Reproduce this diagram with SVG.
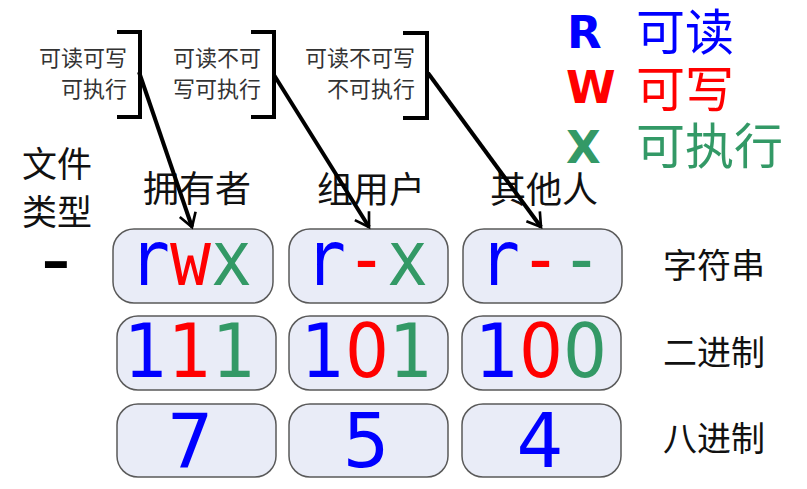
<svg xmlns="http://www.w3.org/2000/svg" width="807" height="489" viewBox="0 0 807 489">
<style>
.box{fill:#e9ecf7;stroke:#5a5a5a;stroke-width:1.5}
.cj{font-family:"Noto Sans CJK SC","Noto Sans",sans-serif;fill:#111}
.sm{font-family:"Noto Sans CJK SC",sans-serif;font-size:22px;fill:#333}
.mono{font-family:"DejaVu Sans Mono","Liberation Mono",monospace}
.dig{font-family:"DejaVu Sans","Liberation Sans",sans-serif}
.b{fill:#0000ff}.r{fill:#ff0000}.g{fill:#339966}
.br{fill:none;stroke:#000;stroke-width:4}
.ar{fill:none;stroke:#000;stroke-width:4}
</style>
<defs>
<marker id="ah" viewBox="0 0 12 12" refX="10" refY="6" markerWidth="5" markerHeight="5" orient="auto" markerUnits="strokeWidth">
<polyline points="2,1 10,6 2,11" fill="none" stroke="#000" stroke-width="1.6"/>
</marker>
</defs>
<rect width="807" height="489" fill="#fff"/>

<g id="legend">
<text x="567" y="48" font-family="DejaVu Sans" font-weight="bold" font-size="45" class="b">R</text>
<text x="566" y="103" font-family="DejaVu Sans" font-weight="bold" font-size="45" class="r">W</text>
<text x="566" y="163" font-family="DejaVu Sans" font-weight="bold" font-size="45" class="g">X</text>
<text x="636" y="50" class="cj" font-size="49" style="fill:#0000ff">可读</text>
<text x="636" y="107" class="cj" font-size="49" style="fill:#ff0000">可写</text>
<text x="636" y="164" class="cj" font-size="49" style="fill:#339966">可执行</text>
</g>

<g id="bracket1">
<polyline class="br" points="117,32 140,32 140,117 117,117"/>
<text class="sm" x="127" y="66" text-anchor="end">可读可写</text>
<text class="sm" x="127" y="97" text-anchor="end">可执行</text>
</g>
<g id="bracket2">
<polyline class="br" points="251,32 274,32 274,117 251,117"/>
<text class="sm" x="261" y="66" text-anchor="end">可读不可</text>
<text class="sm" x="261" y="97" text-anchor="end">写可执行</text>
</g>
<g id="bracket3">
<polyline class="br" points="403,33 427,33 427,118 403,118"/>
<text class="sm" x="415" y="66" text-anchor="end">可读不可写</text>
<text class="sm" x="415" y="97" text-anchor="end">不可执行</text>
</g>

<g id="labels">
<text class="cj" font-size="35" x="22" y="177">文件</text>
<text class="cj" font-size="35" x="22" y="225">类型</text>
<text class="cj" font-size="36" x="143" y="202">拥有者</text>
<text class="cj" font-size="36" x="317" y="203">组用户</text>
<text class="cj" font-size="36" x="490" y="203">其他人</text>
<text class="cj" font-size="34" x="663" y="278">字符串</text>
<text class="cj" font-size="34" x="663" y="365">二进制</text>
<text class="cj" font-size="34" x="663" y="451">八进制</text>
<text class="mono" font-size="86" x="56" y="288" text-anchor="middle" fill="#000">-</text>
</g>

<g id="row1">
<rect class="box" x="113" y="229" width="160" height="74" rx="21"/>
<rect class="box" x="289" y="229" width="159" height="74" rx="21"/>
<rect class="box" x="463" y="229" width="159" height="74" rx="21"/>
<text class="mono" font-size="76" x="129" y="285" textLength="123" lengthAdjust="spacingAndGlyphs"><tspan class="b">r</tspan><tspan class="r">w</tspan><tspan class="g">x</tspan></text>
<text class="mono" font-size="76" x="305" y="285" textLength="123" lengthAdjust="spacingAndGlyphs"><tspan class="b">r</tspan><tspan class="r">-</tspan><tspan class="g">x</tspan></text>
<text class="mono" font-size="76" x="479" y="285" textLength="123" lengthAdjust="spacingAndGlyphs"><tspan class="b">r</tspan><tspan class="r">-</tspan><tspan class="g">-</tspan></text>
</g>

<g id="row2">
<rect class="box" x="117" y="316" width="159" height="74" rx="21"/>
<rect class="box" x="289" y="316" width="159" height="74" rx="21"/>
<rect class="box" x="462" y="316" width="159" height="74" rx="21"/>
<text class="dig" font-size="74" x="124" y="377" textLength="132" lengthAdjust="spacingAndGlyphs"><tspan class="b">1</tspan><tspan class="r">1</tspan><tspan class="g">1</tspan></text>
<text class="dig" font-size="74" x="301" y="377" textLength="132" lengthAdjust="spacingAndGlyphs"><tspan class="b">1</tspan><tspan class="r">0</tspan><tspan class="g">1</tspan></text>
<text class="dig" font-size="74" x="475" y="377" textLength="132" lengthAdjust="spacingAndGlyphs"><tspan class="b">1</tspan><tspan class="r">0</tspan><tspan class="g">0</tspan></text>
</g>

<g id="row3">
<rect class="box" x="117" y="404" width="159" height="73" rx="21"/>
<rect class="box" x="289" y="404" width="159" height="73" rx="21"/>
<rect class="box" x="462" y="404" width="159" height="73" rx="21"/>
<text class="dig b" font-size="74" x="190" y="467" text-anchor="middle">7</text>
<text class="dig b" font-size="74" x="366" y="467" text-anchor="middle">5</text>
<text class="dig b" font-size="74" x="540" y="467" text-anchor="middle">4</text>
</g>

<g id="connectors">
<line class="ar" x1="139" y1="72" x2="192" y2="227" marker-end="url(#ah)"/>
<line class="ar" x1="274" y1="75" x2="369" y2="227" marker-end="url(#ah)"/>
<line class="ar" x1="428" y1="73" x2="541" y2="227" marker-end="url(#ah)"/>
</g>
</svg>
